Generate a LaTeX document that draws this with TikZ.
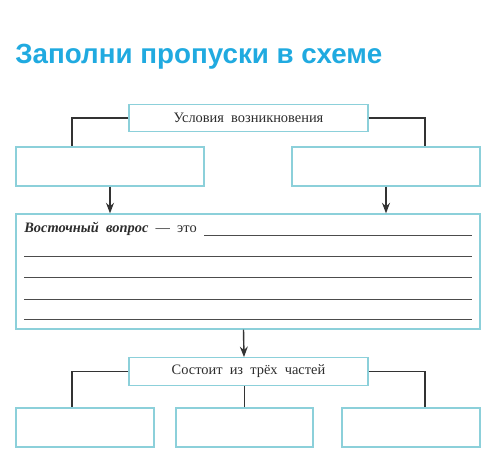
\documentclass[tikz,border=0pt]{standalone}
\usepackage{fontspec}
\setmainfont{Liberation Serif}
\newfontfamily\titlefont{Liberation Sans}
\usetikzlibrary{arrows.meta}
\definecolor{titleblue}{RGB}{32,170,224}
\definecolor{boxline}{RGB}{140,208,218}
\definecolor{inkgray}{RGB}{45,45,45}

\begin{document}
\begin{tikzpicture}[x=0.02cm, y=-0.02cm,
	box/.style={draw=boxline, line width=0.7pt, fill=white, inner sep=0pt, minimum height=0.78cm},
	head/.style={box, minimum width=4.78cm, minimum height=0.55cm, font=\fontsize{8.2}{10}\selectfont, text=inkgray},
	link/.style={draw=black!80, line width=0.8pt},
	arr/.style={link, -{Stealth[length=6pt, width=4.5pt]}},
	rule/.style={draw=black!70, line width=0.5pt}]
			%%%%% START %%%%%
			
			\useasboundingbox (0, 0) rectangle (500, 471);
			
			\node[anchor=base west, text=titleblue, inner sep=0pt] (title) at (15, 63)
				{\titlefont\bfseries\fontsize{15.8}{18}\selectfont Заполни пропуски в схеме};
			
			\node[head] (cond) at (248.5, 118) {Условия\ \ возникновения};
			\node[box, minimum width=3.76cm] (lbox) at (110, 166.5) {};
			\node[box, minimum width=3.76cm] (rbox) at (386, 166.5) {};
			
			\draw[link] (cond.west) -| ([xshift=-0.76cm]lbox.north);
			\draw[link] (cond.east) -| ([xshift=0.78cm]rbox.north);
			
			\node[box, minimum width=9.28cm, minimum height=2.3cm] (def) at (248, 271.5) {};
			
			\draw[arr] (lbox.south) -- (lbox.south |- def.north);
			\draw[arr] (rbox.south) -- (rbox.south |- def.north);
			
			\node[anchor=base west, inner sep=0pt, font=\fontsize{8.2}{10}\selectfont, text=inkgray] (que) at (24, 232)
				{\textbf{\textit{Восточный\ \ вопрос}}\ \ —\ \ это};
			\draw[rule] (204, 235) -- (472, 235);
			\foreach \y in {256, 277, 299, 319}
				\draw[rule] (24, \y) -- (472, \y);
			
			\node[head] (parts) at (248.5, 371.5) {Состоит\ \ из\ \ трёх\ \ частей};
			\draw[arr] ([xshift=-0.09cm]def.south) -- ([xshift=-0.09cm]parts.north);
			
			\node[box, minimum width=2.76cm] (pone) at (85, 427.5) {};
			\node[box, minimum width=2.74cm] (ptwo) at (244.5, 427.5) {};
			\node[box, minimum width=2.76cm] (pthree) at (411, 427.5) {};
			
			\draw[link] (parts.west) -| ([xshift=-0.26cm]pone.north);
			\draw[link] (ptwo.north) -- (ptwo.north |- parts.south);
			\draw[link] (parts.east) -| ([xshift=0.28cm]pthree.north);
			
			%%%%% END %%%%%
\end{tikzpicture}
\end{document}
